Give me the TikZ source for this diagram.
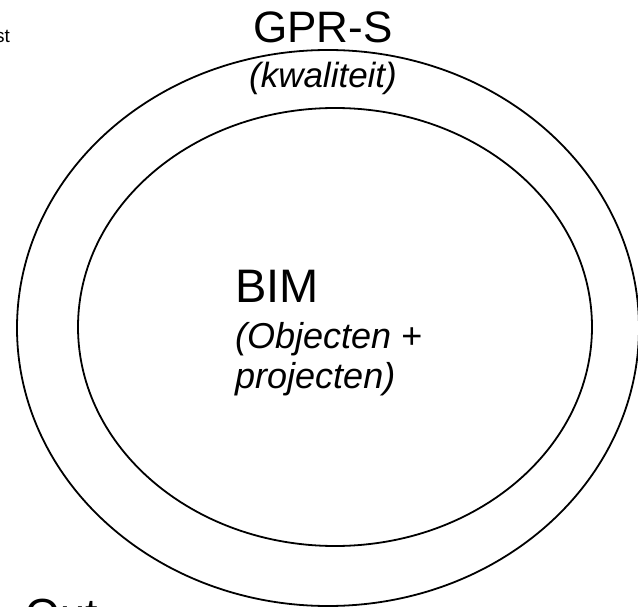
\documentclass[tikz,border=0pt]{standalone}
\usepackage{fontspec}
\setmainfont{Liberation Sans}
\begin{document}
\begin{tikzpicture}[x=1pt,y=-1pt,
    ring/.style={draw, line width=1.8pt},
    lbl/.style={inner sep=0pt, anchor=base}]
    \useasboundingbox (0,0) rectangle (638,607);
    \clip (0,0) rectangle (638,607);

%    outer and inner ellipse
    \draw[ring] (328,328) ellipse (311 and 278);
    \draw[ring] (335,327) ellipse (257 and 219);

\node[lbl, font=\fontsize{44}{48}\selectfont] (gpr) at (323,43) {GPR-S};
\node[lbl, font=\fontsize{35}{40}\selectfont\itshape] (kwal) at (323,88) {(kwaliteit)};

\node[lbl, anchor=base west, font=\fontsize{47}{52}\selectfont] (bim) at (235,302) {BIM};
\node[lbl, anchor=base west, align=left, font=\fontsize{36}{40}\selectfont\itshape] (obj) at (235,388)
    {(Objecten {\upshape+}\\ projecten)};

\node[lbl, anchor=base east, font=\fontsize{19}{22}\selectfont] (st) at (10,43) {st};
\node[lbl, anchor=base west, font=\fontsize{45}{50}\selectfont] (out) at (25,630) {Out};

\end{tikzpicture}
\end{document}
